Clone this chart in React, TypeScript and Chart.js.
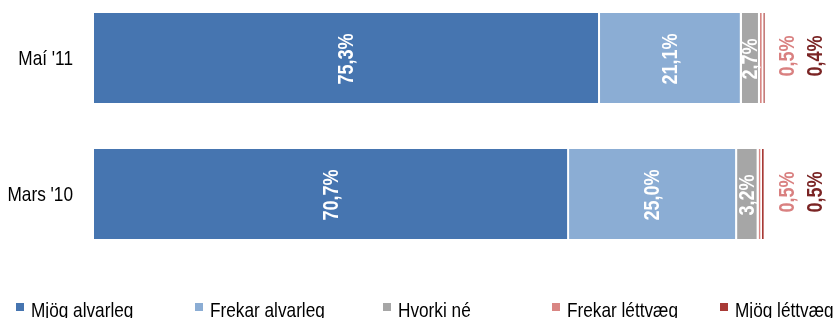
import React, { useEffect, useRef } from "react";
import { Chart, registerables } from "chart.js";

Chart.register(...registerables);

const categories = ["Maí '11", "Mars '10"];
const seriesNames = ["Mjög alvarleg", "Frekar alvarleg", "Hvorki né", "Frekar léttvæg", "Mjög léttvæg"];
const mjogAlvarleg = [75.3, 70.7];
const frekarAlvarleg = [21.1, 25.0];
const hvorkiNe = [2.7, 3.2];
const frekarLettvaeg = [0.5, 0.5];
const mjogLettvaeg = [0.4, 0.5];
const seriesValues = [mjogAlvarleg, frekarAlvarleg, hvorkiNe, frekarLettvaeg, mjogLettvaeg];
const barColors = ["#4675B0", "#8BADD4", "#A6A6A6", "#D98683", "#A83A36"];
const outsideLabelColors = ["#4675B0", "#8BADD4", "#A6A6A6", "#D98080", "#7A2424"];

// layout / style constants
const FONT = "'Liberation Sans', Arial, sans-serif";
const NARROW = 0.82;
const legendX = [16, 195, 383, 552, 720];
const legendY = 319; // canvas coordinates (canvas starts 12px above page)

const fmt = (v: number) => v.toFixed(1).replace(".", ",") + "%";

function narrowText(ctx: CanvasRenderingContext2D, text: string, x: number, y: number, align: CanvasTextAlign, rotate: boolean) {
  ctx.save();
  ctx.translate(x, y);
  if (rotate) ctx.rotate(-Math.PI / 2);
  ctx.scale(NARROW, 1);
  ctx.textAlign = align;
  ctx.textBaseline = "middle";
  ctx.fillText(text, 0, 0);
  ctx.restore();
}

const textPlugin = {
  id: "texts",
  afterDatasetsDraw(chart: any) {
    const ctx = chart.ctx as CanvasRenderingContext2D;
    ctx.save();
    // segment labels
    ctx.font = `bold 22px ${FONT}`;
    chart.data.datasets.forEach((ds: any, di: number) => {
      const meta = chart.getDatasetMeta(di);
      meta.data.forEach((bar: any, i: number) => {
        const v = ds.data[i];
        if (v >= 2) {
          ctx.fillStyle = "#FFFFFF";
          narrowText(ctx, fmt(v), (bar.x + bar.base) / 2, bar.y + 1, "center", true);
        } else {
          const xEnd = chart.scales.x.getPixelForValue(100);
          ctx.fillStyle = outsideLabelColors[di];
          narrowText(ctx, fmt(v), xEnd + (di === 3 ? 22 : 50), bar.y - 2, "center", true);
        }
      });
    });
    // category labels
    ctx.font = `21px ${FONT}`;
    ctx.fillStyle = "#000000";
    const yScale = chart.scales.y;
    chart.data.labels.forEach((lab: string, i: number) => {
      narrowText(ctx, lab, chart.chartArea.left - 21, yScale.getPixelForValue(i) + 1, "right", false);
    });
    // legend
    chart.data.datasets.forEach((ds: any, di: number) => {
      const x0 = legendX[di];
      ctx.fillStyle = ds.backgroundColor;
      ctx.fillRect(x0, legendY - 4, 8, 8);
      ctx.fillStyle = "#000000";
      narrowText(ctx, ds.label, x0 + 15, legendY + 4, "left", false);
    });
    ctx.restore();
  },
};

export default function App() {
  const ref = useRef<HTMLCanvasElement | null>(null);
  useEffect(() => {
    if (!ref.current) return;
    const chart = new Chart(ref.current, {
      type: "bar",
      data: {
        labels: categories,
        datasets: seriesValues.map((vals, k) => ({
          label: seriesNames[k],
          data: vals,
          backgroundColor: barColors[k],
          borderColor: "#FFFFFF",
          borderWidth: { right: 2, left: 0, top: 0, bottom: 0 },
          borderSkipped: false,
          barPercentage: 0.66,
          categoryPercentage: 1.0,
        })),
      },
      options: {
        indexAxis: "y",
        animation: false,
        responsive: true,
        maintainAspectRatio: false,
        layout: { padding: { top: 2, right: 69, left: 0, bottom: 56 } },
        scales: {
          x: {
            stacked: true,
            min: 0,
            max: 100,
            display: false,
          },
          y: {
            stacked: true,
            grid: { display: false, drawTicks: false },
            border: { display: false },
            ticks: { display: false },
            afterFit(scale: any) {
              scale.width = 94;
            },
          },
        },
        plugins: {
          tooltip: { enabled: false },
          legend: { display: false },
        },
      },
      plugins: [textPlugin],
    } as any);
    return () => chart.destroy();
  }, []);
  return (
    <div style={{ position: "fixed", left: 0, top: 0, width: 835, height: 318, overflow: "hidden", background: "#fff" }}>
      <div style={{ position: "absolute", left: 0, top: -12, width: 835, height: 330 }}>
        <canvas ref={ref} />
      </div>
    </div>
  );
}
